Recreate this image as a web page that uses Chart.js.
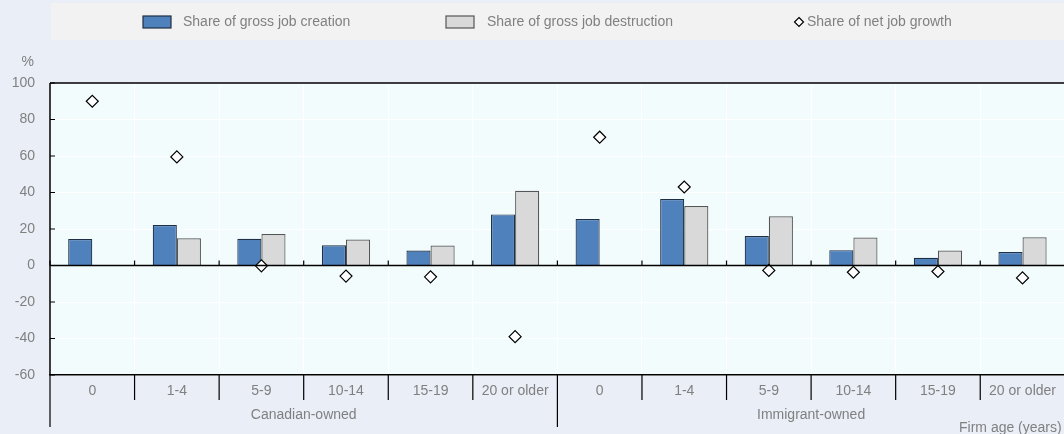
<!DOCTYPE html>
<html lang="en">
<head>
    <meta charset="UTF-8">
    <title>Job creation and destruction by firm age</title>
    <script src="https://cdn.jsdelivr.net/npm/chart.js"></script>
    <style>
        html, body { margin: 0; padding: 0; background: #eaeef7; overflow: hidden; }
        canvas { display: block; }
    </style>
</head>
<body>
    <canvas id="jobs" width="1072" height="434"></canvas>

<script>
// firm age classes, repeated for each ownership group
var ages = ['0', '1-4', '5-9', '10-14', '15-19', '20 or older'];
var groups = ['Canadian-owned', 'Immigrant-owned'];
var labels = ages.concat(ages);

var creation    = [14.5, 22.2, 14.6, 11.1, 8.2, 28.0, 25.5, 36.4, 16.2, 8.4, 4.2, 7.4];
var destruction = [null, 14.9, 17.3, 14.2, 10.9, 41.0, null, 32.6, 27.0, 15.3, 8.2, 15.5];
var netGrowth   = [90.0, 59.5, -0.2, -5.8, -6.2, -39.0, 70.3, 43.0, -2.7, -3.7, -3.3, -6.8];

var yTicks = [-60, -40, -20, 0, 20, 40, 60, 80, 100];

var FONT = '"Liberation Sans", Arial, sans-serif';
var TEXT = '#808080';

// background panels, axis decorations, legend and group labels
var decorations = {
    id: 'decorations',
    beforeDraw: function(chart) {
        var ctx = chart.ctx, a = chart.chartArea;
        ctx.save();
        ctx.fillStyle = '#eaeef7';
        ctx.fillRect(0, 0, chart.width, chart.height);
        ctx.fillStyle = '#f2f2f3';
        ctx.fillRect(51, 3, chart.width - 51, 37);
        ctx.fillStyle = '#f2fcfd';
        ctx.fillRect(a.left, a.top, a.right - a.left, a.bottom - a.top);
        ctx.restore();
    },
    afterDatasetsDraw: function(chart) {
        var ctx = chart.ctx, a = chart.chartArea;
        var x = chart.scales.x, y = chart.scales.y;
        var y0 = y.getPixelForValue(0);
        ctx.save();
        ctx.strokeStyle = '#000';
        ctx.lineWidth = 1.5;
        // frame: top and left
        ctx.beginPath();
        ctx.moveTo(a.left, a.top); ctx.lineTo(a.right, a.top);
        ctx.moveTo(a.left, a.top); ctx.lineTo(a.left, a.bottom);
        ctx.stroke();
        // zero line
        ctx.beginPath();
        ctx.moveTo(a.left, y0); ctx.lineTo(a.right, y0);
        ctx.stroke();
        // inner ticks on the value axis
        ctx.lineWidth = 1.2;
        ctx.beginPath();
        yTicks.forEach(function(v) {
            var py = y.getPixelForValue(v);
            ctx.moveTo(a.left, py); ctx.lineTo(a.left + 5, py);
        });
        ctx.stroke();
        // category separators: small ticks on zero line and ticks below the axis
        var half = (x.getPixelForValue(1) - x.getPixelForValue(0)) / 2;
        ctx.beginPath();
        for (var i = 0; i <= labels.length; i++) {
            var px = i < labels.length ? x.getPixelForValue(i) - half : x.getPixelForValue(i - 1) + half;
            ctx.moveTo(px, y0); ctx.lineTo(px, y0 - 5);
            var isGroup = (i % ages.length === 0);
            ctx.moveTo(px, a.bottom); ctx.lineTo(px, isGroup ? 427 : 400);
        }
        ctx.stroke();
        // group labels
        ctx.fillStyle = TEXT;
        ctx.font = '14px ' + FONT;
        ctx.textAlign = 'center';
        ctx.textBaseline = 'middle';
        groups.forEach(function(g, k) {
            var first = x.getPixelForValue(k * ages.length);
            var last = x.getPixelForValue((k + 1) * ages.length - 1);
            ctx.fillText(g, (first + last) / 2, 415);
        });
        ctx.textAlign = 'left';
        ctx.fillText('Firm age (years)', 959, 428);
        ctx.textAlign = 'right';
        ctx.fillText('%', 34, 62);

        // legend
        var ds = chart.data.datasets;
        ctx.textAlign = 'left';
        ctx.lineWidth = 1.2;
        ctx.fillStyle = ds[0].backgroundColor;
        ctx.strokeStyle = ds[0].borderColor;
        ctx.fillRect(143, 16, 28, 12); ctx.strokeRect(143, 16, 28, 12);
        ctx.fillStyle = ds[1].backgroundColor;
        ctx.strokeStyle = ds[1].borderColor;
        ctx.fillRect(446, 16, 28, 12); ctx.strokeRect(446, 16, 28, 12);
        ctx.fillStyle = '#fff';
        ctx.strokeStyle = '#000';
        ctx.beginPath();
        ctx.moveTo(799, 17.5); ctx.lineTo(803.5, 22); ctx.lineTo(799, 26.5); ctx.lineTo(794.5, 22); ctx.closePath();
        ctx.fill(); ctx.stroke();
        ctx.fillStyle = TEXT;
        ctx.fillText(ds[0].label, 183, 22);
        ctx.fillText(ds[1].label, 487, 22);
        ctx.fillText(ds[2].label, 807, 22);
        ctx.restore();
    }
};

new Chart(document.getElementById('jobs'), {
    type: 'bar',
    data: {
        labels: labels,
        datasets: [{
            label: 'Share of gross job creation',
            data: creation,
            backgroundColor: '#4f81bd',
            borderColor: '#1f2f45',
            borderWidth: 1.2,
            order: 2
        }, {
            label: 'Share of gross job destruction',
            data: destruction,
            backgroundColor: '#d9d9d9',
            borderColor: '#555555',
            borderWidth: 1.2,
            order: 2
        }, {
            type: 'line',
            label: 'Share of net job growth',
            data: netGrowth,
            showLine: false,
            pointStyle: 'rectRot',
            pointRadius: 6,
            pointBackgroundColor: '#ffffff',
            pointBorderColor: '#000000',
            pointBorderWidth: 1.2,
            order: 1
        }]
    },
    options: {
        responsive: false,
        animation: false,
        devicePixelRatio: 1,
        layout: { padding: { top: 83, right: 2, left: 0, bottom: 0 } },
        datasets: {
            bar: { categoryPercentage: 0.57, barPercentage: 1.0 }
        },
        plugins: {
            legend: { display: false },
            tooltip: { enabled: false }
        },
        scales: {
            x: {
                offset: true,
                grid: { offset: true, color: '#ffffff', lineWidth: 1, drawTicks: false },
                border: { display: true, color: '#000000', width: 1.5 },
                ticks: {
                    color: TEXT,
                    font: { size: 14, family: FONT },
                    padding: 8,
                    maxRotation: 0,
                    autoSkip: false
                },
                afterFit: function(scale) { scale.height = 59; }
            },
            y: {
                min: -60,
                max: 100,
                afterBuildTicks: function(scale) {
                    scale.ticks = yTicks.map(function(v) { return { value: v }; });
                },
                grid: { color: '#ffffff', lineWidth: 1, drawTicks: false },
                border: { display: false },
                ticks: {
                    color: TEXT,
                    font: { size: 14, family: FONT },
                    padding: 15
                },
                afterFit: function(scale) { scale.width = 50; }
            }
        }
    },
    plugins: [decorations]
});
</script>
</body>
</html>
